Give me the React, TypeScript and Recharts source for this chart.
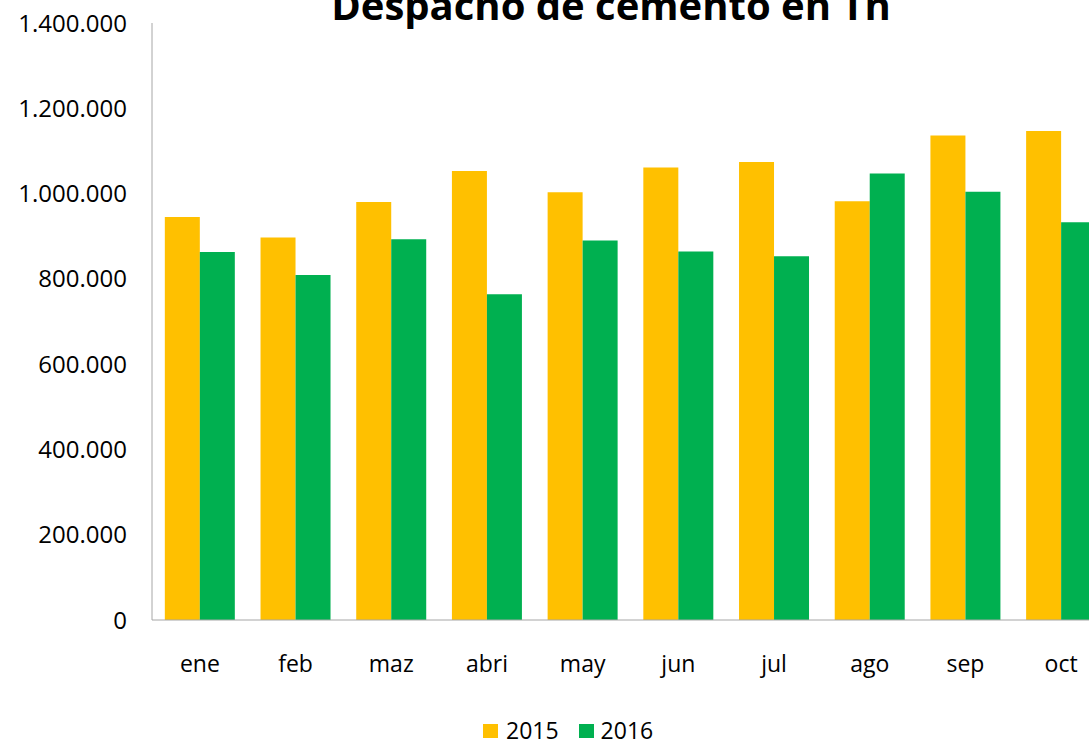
import { BarChart, Bar, XAxis, YAxis } from "recharts";

const months = ["ene", "feb", "maz", "abri", "may", "jun", "jul", "ago", "sep", "oct"];
const ton2015 = [945000, 897000, 980000, 1053000, 1003000, 1061000, 1074000, 982000, 1136000, 1147000];
const ton2016 = [863000, 809000, 893000, 764000, 890000, 864000, 853000, 1047000, 1004000, 933000];
const yTicks = [0, 200000, 400000, 600000, 800000, 1000000, 1200000, 1400000];

const data = months.map((m, i) => ({ month: m, y2015: ton2015[i], y2016: ton2016[i] }));

const FONT = "'Open Sans', sans-serif";
const ORANGE = "#FFC000";
const GREEN = "#00B050";
const AXIS = "#A6A6A6";

const fmt = (v: number) => (v === 0 ? "0" : String(v).replace(/\B(?=(\d{3})+(?!\d))/g, "."));

export default function App() {
  return (
    <div
      style={{
        position: "absolute",
        left: 0,
        top: 0,
        width: 1089,
        height: 743,
        overflow: "hidden",
        background: "#fff",
        fontFamily: FONT,
      }}
    >
      <BarChart
        width={1120}
        height={743}
        data={data}
        margin={{ top: 23, right: 11, left: 0, bottom: 43 }}
        barCategoryGap="13.4%"
        barGap={0}
      >
        <XAxis
          dataKey="month"
          stroke={AXIS}
          tickLine={false}
          tickSize={0}
          tickMargin={36}
          height={80}
          tick={{ fill: "#000", fontSize: 23, fontFamily: FONT }}
        />
        <YAxis
          width={152}
          domain={[0, 1400000]}
          ticks={yTicks}
          tickFormatter={fmt}
          stroke={AXIS}
          tickLine={false}
          tickSize={0}
          tickMargin={25}
          tick={{ fill: "#000", fontSize: 24, fontFamily: FONT }}
        />
        <Bar dataKey="y2015" name="2015" fill={ORANGE} isAnimationActive={false} />
        <Bar dataKey="y2016" name="2016" fill={GREEN} isAnimationActive={false} />
      </BarChart>

      <svg width={1089} height={40} style={{ position: "absolute", left: 0, top: 0 }}>
        <text x={611} y={20} textAnchor="middle" fontFamily={FONT} fontWeight="bold" fontSize={40} fill="#000">
          Despacho de cemento en Tn
        </text>
      </svg>

      <div
        style={{
          position: "absolute",
          left: 483,
          top: 719,
          display: "flex",
          alignItems: "center",
          fontSize: 23,
          lineHeight: "23px",
          color: "#000",
        }}
      >
        <span style={{ width: 15, height: 14, background: ORANGE, display: "inline-block", marginRight: 8 }} />
        <span style={{ marginRight: 20 }}>2015</span>
        <span style={{ width: 15, height: 14, background: GREEN, display: "inline-block", marginRight: 7 }} />
        <span>2016</span>
      </div>
    </div>
  );
}
